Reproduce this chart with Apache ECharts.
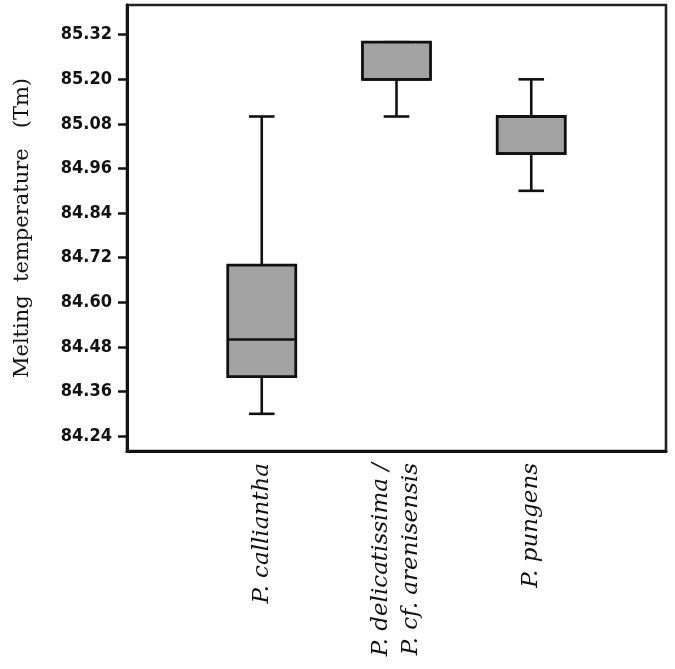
<!DOCTYPE html>
<html>
<head>
<meta charset="utf-8">
<script src="https://cdn.jsdelivr.net/npm/echarts@6/dist/echarts.min.js"></script>
<style>
html,body{margin:0;padding:0;background:#fff;}
#chart{width:675px;height:669px;}
</style>
</head>
<body>
<div id="chart"></div>
<script>
// ---- data ----
const categories = ['P. calliantha', 'P. delicatissima /\nP. cf. arenisensis', 'P. pungens'];
const whiskerMin = [84.30, 85.10, 84.90];
const q1Values = [84.40, 85.20, 85.00];
const medianValues = [84.50, 85.20, 85.00];
const q3Values = [84.70, 85.30, 85.10];
const whiskerMax = [85.10, 85.30, 85.20];
const yTickLabels = [84.24, 84.36, 84.48, 84.60, 84.72, 84.84, 84.96, 85.08, 85.20, 85.32];
const yTitle = 'Melting  temperature   (Tm)';

// category axis padded with blank slots at both ends
const axisCats = [''].concat(categories, ['']);
const seriesData = categories.map((c, i) => [i + 1, whiskerMin[i], q1Values[i], medianValues[i], q3Values[i], whiskerMax[i]]);

function renderItem(params, api) {
  const x = api.value(0);
  const pMin = api.coord([x, api.value(1)]);
  const pQ1 = api.coord([x, api.value(2)]);
  const pMed = api.coord([x, api.value(3)]);
  const pQ3 = api.coord([x, api.value(4)]);
  const pMax = api.coord([x, api.value(5)]);
  const band = api.size([1, 0])[0];
  const bw = band * 0.505;
  const cw = band * 0.19;
  const cx = pQ1[0];
  const stroke = {stroke: '#111', lineWidth: 2.6, fill: null};
  const children = [
    {type: 'line', shape: {x1: cx, y1: pMax[1], x2: cx, y2: pQ3[1]}, style: stroke},
    {type: 'line', shape: {x1: cx, y1: pQ1[1], x2: cx, y2: pMin[1]}, style: stroke},
    {type: 'line', shape: {x1: cx - cw / 2, y1: pMax[1], x2: cx + cw / 2, y2: pMax[1]}, style: stroke},
    {type: 'line', shape: {x1: cx - cw / 2, y1: pMin[1], x2: cx + cw / 2, y2: pMin[1]}, style: stroke},
    {type: 'rect', shape: {x: cx - bw / 2, y: pQ3[1], width: bw, height: pQ1[1] - pQ3[1]},
      style: {fill: '#a3a3a3', stroke: '#111', lineWidth: 2.8}},
    {type: 'line', shape: {x1: cx - bw / 2, y1: pMed[1], x2: cx + bw / 2, y2: pMed[1]}, style: stroke}
  ];
  return {type: 'group', children: children};
}

const chart = echarts.init(document.getElementById('chart'));
chart.setOption({
  animation: false,
  backgroundColor: '#fff',
  grid: {left: 127, right: 9, top: 5, bottom: 218, show: true, borderColor: '#222', borderWidth: 2.6, backgroundColor: 'transparent'},
  xAxis: {
    type: 'category',
    data: axisCats,
    boundaryGap: false,
    axisLine: {show: true, lineStyle: {color: '#111', width: 3}},
    axisTick: {show: false},
    splitLine: {show: false},
    axisLabel: {
      interval: 0,
      rotate: 90,
      margin: 12,
      color: '#111',
      fontFamily: 'DejaVu Serif',
      fontStyle: 'italic',
      fontSize: 23,
      lineHeight: 30
    }
  },
  yAxis: {
    type: 'value',
    min: 84.20,
    max: 85.40,
    name: yTitle,
    nameLocation: 'middle',
    nameGap: 94,
    nameTextStyle: {fontFamily: 'DejaVu Serif', fontSize: 21, color: '#111'},
    axisLine: {show: true, lineStyle: {color: '#111', width: 3}},
    axisTick: {show: true, length: 9, lineStyle: {color: '#111', width: 2.5}, customValues: yTickLabels},
    axisLabel: {
      customValues: yTickLabels,
      formatter: v => v.toFixed(2),
      margin: 15,
      color: '#111',
      fontFamily: 'DejaVu Sans Condensed',
      fontWeight: 'bold',
      fontSize: 18
    },
    splitLine: {show: false}
  },
  series: [{
    type: 'custom',
    renderItem: renderItem,
    encode: {x: 0, y: [1, 2, 3, 4, 5]},
    data: seriesData
  }]
});
</script>
</body>
</html>
